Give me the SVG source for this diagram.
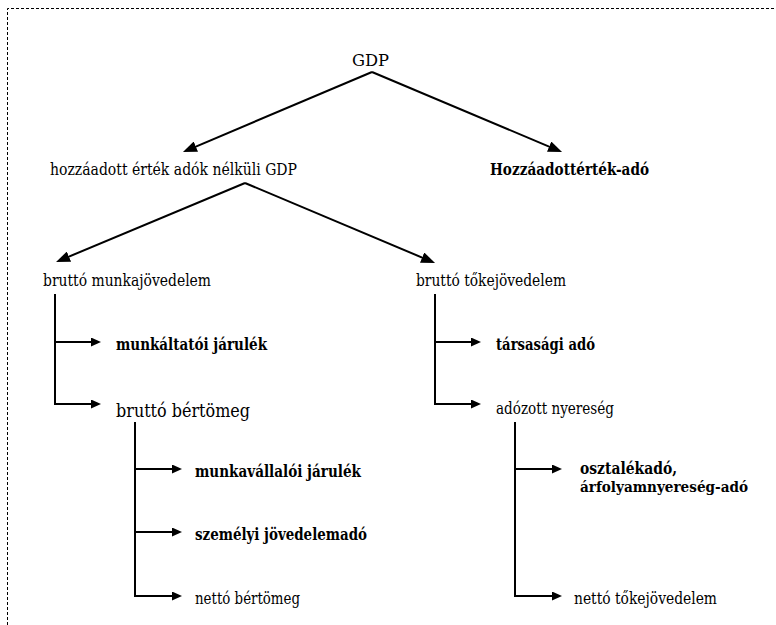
<svg xmlns="http://www.w3.org/2000/svg" width="776" height="625" viewBox="0 0 776 625">
<style>
text{font-family:'DejaVu Serif','Liberation Serif',serif;font-size:16px;fill:#000}
.b{font-weight:bold}
.big{font-size:19px}
.sm{font-size:14px}
.c{fill:none;stroke:#000;stroke-width:2}
.frame{fill:none;stroke:#000;stroke-width:1;stroke-dasharray:3,2}
</style>
<defs>
<marker id="ad" markerUnits="userSpaceOnUse" markerWidth="14" markerHeight="11" refX="7" refY="5.5" orient="auto"><path d="M0,0 L14,5.5 L0,11 z" fill="#000"/></marker>
<marker id="ah" markerUnits="userSpaceOnUse" markerWidth="10" markerHeight="9" refX="5" refY="4.5" orient="auto"><path d="M0,0 L10,4.5 L0,9 z" fill="#000"/></marker>
</defs>
<path class="frame" d="M7.5,625 V8.5 H776"/>
<g id="connectors">
<path class="c" d="M372,72 L189.4,149.3" marker-end="url(#ad)"/>
<path class="c" d="M372,72 L555.6,149.3" marker-end="url(#ad)"/>
<path class="c" d="M245,183 L62.5,259.3" marker-end="url(#ad)"/>
<path class="c" d="M245,183 L428.6,260.3" marker-end="url(#ad)"/>
<path class="c" d="M55,294 V404 H96" marker-end="url(#ah)"/>
<path class="c" d="M55,342 H96" marker-end="url(#ah)"/>
<path class="c" d="M435,294 V404 H476" marker-end="url(#ah)"/>
<path class="c" d="M435,342 H476" marker-end="url(#ah)"/>
<path class="c" d="M135,422 V596 H177" marker-end="url(#ah)"/>
<path class="c" d="M135,469 H177" marker-end="url(#ah)"/>
<path class="c" d="M135,532 H177" marker-end="url(#ah)"/>
<path class="c" d="M515,422 V596 H557" marker-end="url(#ah)"/>
<path class="c" d="M515,469 H557" marker-end="url(#ah)"/>
</g>
<g id="gdp"><text x="352" y="66" textLength="37" lengthAdjust="spacingAndGlyphs">GDP</text></g>
<g id="hozzaadott"><text x="50" y="175" textLength="247" lengthAdjust="spacingAndGlyphs">hozzáadott érték adók nélküli GDP</text></g>
<g id="afa"><text class="b" x="490" y="175" textLength="159" lengthAdjust="spacingAndGlyphs">Hozzáadottérték-adó</text></g>
<g id="munkajov"><text x="43" y="286" textLength="168" lengthAdjust="spacingAndGlyphs">bruttó munkajövedelem</text></g>
<g id="tokejov"><text x="416" y="286" textLength="150" lengthAdjust="spacingAndGlyphs">bruttó tőkejövedelem</text></g>
<g id="munkaltatoi"><text class="b" x="116" y="350" textLength="151" lengthAdjust="spacingAndGlyphs">munkáltatói járulék</text></g>
<g id="tarsasagi"><text class="b" x="496" y="350" textLength="99" lengthAdjust="spacingAndGlyphs">társasági adó</text></g>
<g id="bertomeg"><text class="big" x="116" y="417" textLength="134" lengthAdjust="spacingAndGlyphs">bruttó bértömeg</text></g>
<g id="adozott"><text x="496" y="414" textLength="118" lengthAdjust="spacingAndGlyphs">adózott nyereség</text></g>
<g id="munkavallaloi"><text class="b" x="195" y="477" textLength="166" lengthAdjust="spacingAndGlyphs">munkavállalói járulék</text></g>
<g id="szja"><text class="b" x="195" y="540" textLength="172" lengthAdjust="spacingAndGlyphs">személyi jövedelemadó</text></g>
<g id="netto-ber"><text x="195" y="604" textLength="105" lengthAdjust="spacingAndGlyphs">nettó bértömeg</text></g>
<g id="osztalek"><text class="b" x="580" y="474" textLength="97" lengthAdjust="spacingAndGlyphs">osztalékadó,</text><text class="b sm" x="580" y="492" textLength="168" lengthAdjust="spacingAndGlyphs">árfolyamnyereség-adó</text></g>
<g id="netto-toke"><text x="574" y="604" textLength="143" lengthAdjust="spacingAndGlyphs">nettó tőkejövedelem</text></g>
</svg>
